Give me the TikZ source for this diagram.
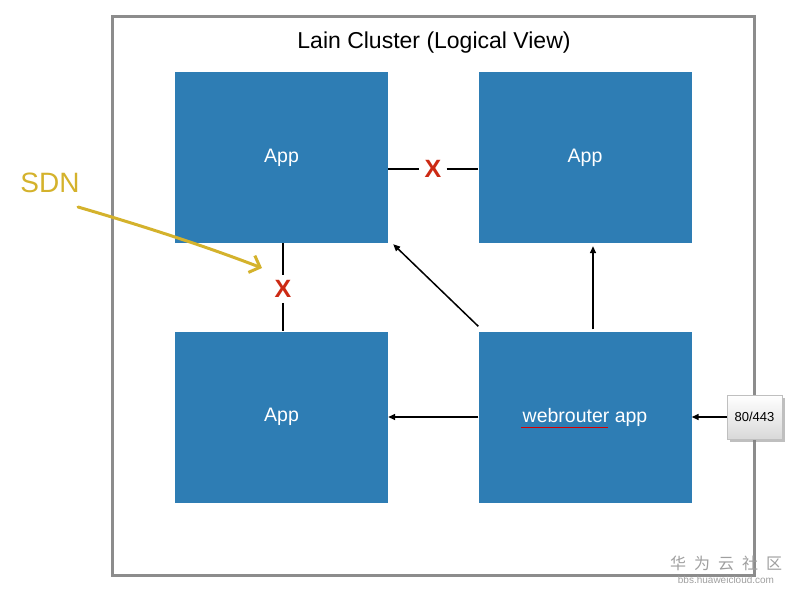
\documentclass[tikz,border=0pt]{standalone}
\usepackage{fontspec}
\setmainfont{Liberation Sans}
\newfontfamily\cjkfont{Noto Sans CJK SC}
\usetikzlibrary{arrows.meta,shadows}
\definecolor{appblue}{HTML}{2E7DB4}
\definecolor{sdnyellow}{HTML}{D4B22C}
\definecolor{xred}{HTML}{CC2A14}
\definecolor{framegray}{HTML}{8C8C8C}

\begin{document}
\begin{tikzpicture}[x=1pt, y=-1pt,
	app/.style={fill=appblue, text=white, inner sep=0pt,
		minimum width=213pt, minimum height=171pt,
		font=\fontsize{19.5}{22}\selectfont},
	cut/.style={text=xred, inner sep=5pt,
		font=\bfseries\fontsize{25}{27}\selectfont},
	link/.style={line width=1.5pt},
	flow/.style={line width=1.5pt, -{Triangle[length=7pt,width=6pt]}}]
		\useasboundingbox (0,0) rectangle (794,594);
		% cluster frame
		\draw[framegray, line width=3pt] (112,17) rectangle (754,575);
		\node (title) at (434,43) {\fontsize{23}{27}\selectfont Lain Cluster (Logical View)};
		% apps
		\node[app] (tl) at (281.5,157.5) {App};
		\node[app] (tr) at (585,157.5) {App};
		\node[app] (bl) at (281.5,417) {App};
		\node[app] (wr) at (585,417) {webrouter app};
		\draw[red!85!black, line width=1pt] (521,427) -- (608,427);
		% blocked links
		\node[cut] (xtop) at (433,169) {X};
		\node[cut] (xleft) at (283,289) {X};
		\draw[link] (xtop.west -| tl.east) -- (xtop.west);
		\draw[link] (xtop.east) -- (xtop.east -| tr.west);
		\draw[link] (xleft.north |- tl.south) -- (xleft.north);
		\draw[link] (xleft.south) -- (xleft.south |- bl.north);
		% port
		\node[draw=gray!50, top color=white, bottom color=gray!30, drop shadow,
			minimum width=55pt, minimum height=44pt, inner sep=0pt,
			font=\fontsize{13}{15}\selectfont] (port) at (754.5,417) {80/443};
		% routing
		\draw[flow] (port.west) -- (wr.east);
		\draw[flow] (wr.west) -- (bl.east);
		\draw[flow] ([yshift=5pt]wr.north west) -- ([xshift=5pt,yshift=-1pt]tl.south east);
		\draw[flow] ([xshift=8pt,yshift=2pt]wr.north) -- ([xshift=8pt,yshift=-3pt]tr.south);
		% SDN note
		\node[text=sdnyellow, font=\fontsize{28}{32}\selectfont] (sdn) at (50,183) {SDN};
		\coordinate (hit) at (262,268);
		\draw[sdnyellow, line width=3pt, line cap=round,
			-{Straight Barb[length=9pt,width=18pt,line width=3pt]}]
			(78,207) .. controls (150,228) and (210,248) .. (hit);
		% watermark
		\node[text=gray!75, font=\cjkfont\fontsize{16}{18}\selectfont] (wm) at (726,563) {华\,\,\,为\,\,\,云\,\,\,社\,\,\,区};
		\node[text=gray!75, font=\fontsize{10}{11}\selectfont, inner sep=0pt] (wmurl) at (726,580) {bbs.huaweicloud.com};
\end{tikzpicture}
\end{document}
